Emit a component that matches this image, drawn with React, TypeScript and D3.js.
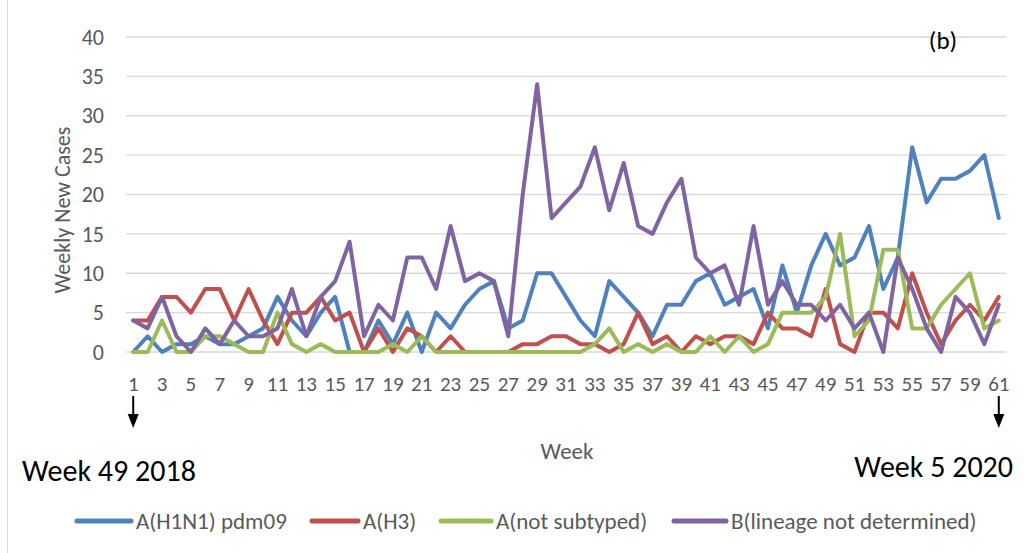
import React from 'react';
import * as d3 from 'd3';

// week index 1..61 (week 49 2018 -> week 5 2020)
const weeks = [
  1, 2, 3, 4, 5, 6, 7, 8, 9, 10, 11, 12, 13, 14, 15, 16, 17, 18, 19, 20,
  21, 22, 23, 24, 25, 26, 27, 28, 29, 30, 31, 32, 33, 34, 35, 36, 37, 38, 39, 40,
  41, 42, 43, 44, 45, 46, 47, 48, 49, 50, 51, 52, 53, 54, 55, 56, 57, 58, 59, 60, 61
];

const h1n1 = [
  0, 2, 0, 1, 1, 2, 1, 1, 2, 3, 7, 4, 2, 5, 7, 0, 0, 4, 1, 5,
  0, 5, 3, 6, 8, 9, 3, 4, 10, 10, 7, 4, 2, 9, 7, 5, 2, 6, 6, 9,
  10, 6, 7, 8, 3, 11, 5, 11, 15, 11, 12, 16, 8, 12, 26, 19, 22, 22, 23, 25, 17
];

const h3 = [
  4, 4, 7, 7, 5, 8, 8, 4, 8, 4, 1, 5, 5, 7, 4, 5, 0, 3, 0, 3,
  2, 0, 2, 0, 0, 0, 0, 1, 1, 2, 2, 1, 1, 0, 1, 5, 1, 2, 0, 2,
  1, 2, 2, 1, 5, 3, 3, 2, 8, 1, 0, 5, 5, 3, 10, 5, 1, 4, 6, 4, 7
];

const notSubtyped = [
  0, 0, 4, 0, 0, 2, 2, 1, 0, 0, 5, 1, 0, 1, 0, 0, 0, 0, 1, 0,
  2, 0, 0, 0, 0, 0, 0, 0, 0, 0, 0, 0, 1, 3, 0, 1, 0, 1, 0, 0,
  2, 0, 2, 0, 1, 5, 5, 5, 7, 15, 2, 4, 13, 13, 3, 3, 6, 8, 10, 3, 4
];

const lineageB = [
  4, 3, 7, 2, 0, 3, 1, 4, 2, 2, 3, 8, 2, 7, 9, 14, 2, 6, 4, 12,
  12, 8, 16, 9, 10, 9, 2, 20, 34, 17, 19, 21, 26, 18, 24, 16, 15, 19, 22, 12,
  10, 11, 6, 16, 6, 9, 6, 6, 4, 6, 3, 5, 0, 12, 8, 3, 0, 7, 5, 1, 6
];

const yTicks = [0, 5, 10, 15, 20, 25, 30, 35, 40];

const series = [
  { name: 'A(H1N1) pdm09', values: h1n1, color: '#4F81BD' },
  { name: 'A(H3)', values: h3, color: '#C0504D' },
  { name: 'A(not subtyped)', values: notSubtyped, color: '#9BBB59' },
  { name: 'B(lineage not determined)', values: lineageB, color: '#8064A2' }
];

const W = 1025;
const H = 553;
const plot = { left: 126, right: 1006, top: 37, bottom: 352 };
const font = "Carlito, Calibri, Lato, sans-serif";
const grey = '#595959';

const x = d3.scalePoint<number>().domain(weeks).range([plot.left, plot.right]).padding(0.5);
const y = d3.scaleLinear().domain([0, 40]).range([plot.bottom, plot.top]);

const line = d3.line<number>()
  .x((d, i) => x(weeks[i]) as number)
  .y(d => y(d));

// legend layout: [line start, line end, text start]
const legendPos = [
  [77, 131, 136],
  [312, 358, 363],
  [441, 491, 496],
  [674, 726, 731]
];

function Arrow({ cx }: { cx: number }) {
  return (
    <g>
      <line x1={cx} x2={cx} y1={396} y2={416} stroke="#000" strokeWidth={2} />
      <path d={`M${cx - 5.5},${414} L${cx + 5.5},${414} L${cx},${428} Z`} fill="#000" />
    </g>
  );
}

export default function App() {
  return (
    <svg width={W} height={H} style={{ position: 'absolute', left: 0, top: 0, background: '#fff' }}
      fontFamily={font}>
      <rect x={0} y={0} width={W} height={H} fill="#fff" />
      <line x1={7.5} x2={7.5} y1={0} y2={H} stroke="#d9d9d9" strokeWidth={1} />

      {/* gridlines + y ticks */}
      {yTicks.map(t => (
        <g key={t}>
          <line x1={plot.left} x2={plot.right} y1={y(t)} y2={y(t)} stroke="#d9d9d9" strokeWidth={1.3} />
          <text x={104} y={y(t)} dy="0.35em" textAnchor="end" fontSize={22} fill={grey}>{t}</text>
        </g>
      ))}

      {/* x tick labels, every second week */}
      {weeks.filter(w => w % 2 === 1).map(w => (
        <text key={w} x={x(w)} y={384} dy="0.35em" textAnchor="middle" fontSize={21} fill={grey}>{w}</text>
      ))}

      <text transform={`translate(62,210) rotate(-90)`} textAnchor="middle"
        dy="0.35em" fontSize={22} fill={grey}>Weekly New Cases</text>
      <text x={567} y={451} dy="0.35em" textAnchor="middle" fontSize={23} fill={grey}>Week</text>

      {series.map(s => (
        <path key={s.name} d={line(s.values) || ''} fill="none" stroke={s.color} strokeWidth={4}
          strokeLinejoin="round" strokeLinecap="round" />
      ))}

      <text x={943} y={40} dy="0.35em" textAnchor="middle" fontSize={25} fill="#000">(b)</text>

      <Arrow cx={x(1) as number} />
      <Arrow cx={x(61) as number} />
      <text x={22} y={470} dy="0.35em" fontSize={30} fill="#000">Week 49 2018</text>
      <text x={1013} y={466} dy="0.35em" textAnchor="end" fontSize={30} fill="#000">Week 5 2020</text>

      {series.map((s, i) => (
        <g key={s.name}>
          <line x1={legendPos[i][0]} x2={legendPos[i][1]} y1={521} y2={521} stroke={s.color} strokeWidth={5}
            strokeLinecap="round" />
          <text x={legendPos[i][2]} y={521} dy="0.35em" fontSize={23} fill={grey}>{s.name}</text>
        </g>
      ))}
    </svg>
  );
}
